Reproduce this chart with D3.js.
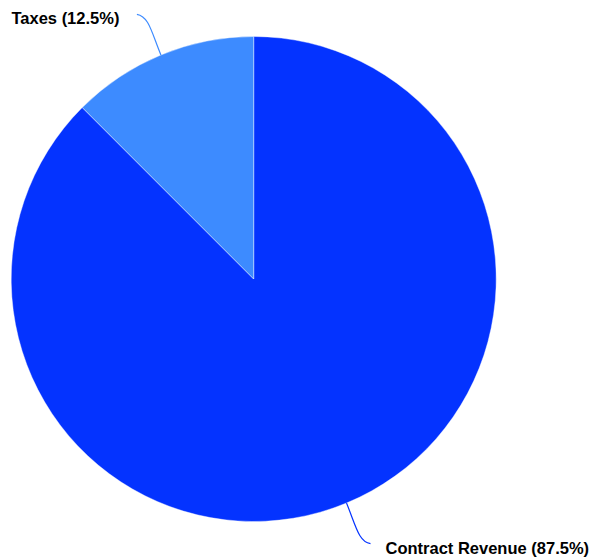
<!DOCTYPE html>
<html>
<head>
<meta charset="utf-8">
<script src="https://cdn.jsdelivr.net/npm/d3@7"></script>
<style>
  html, body { margin: 0; padding: 0; background: #fff; }
  svg { display: block; }
  text { font-family: "Liberation Sans", Arial, Helvetica, sans-serif; font-weight: bold; font-size: 16.5px; fill: #000; }
</style>
</head>
<body>
<svg id="chart" width="593" height="560"></svg>
<script>
const categories = ["Contract Revenue", "Taxes"];
const values = [87.5, 12.5];
const colors = ["#0433ff", "#3d8bff"];

const W = 593, H = 560;
const cx = 253.7, cy = 279, R = 242.5;

const svg = d3.select("#chart");
const g = svg.append("g").attr("transform", `translate(${cx},${cy})`);

const data = categories.map((c, i) => ({ name: c, value: values[i], color: colors[i] }));
const pie = d3.pie().value(d => d.value).sort(null);
const arcs = pie(data);
const arc = d3.arc().innerRadius(0).outerRadius(R);

g.selectAll("path.slice")
  .data(arcs)
  .enter().append("path")
  .attr("class", "slice")
  .attr("d", arc)
  .attr("fill", d => d.data.color)
  .attr("stroke", "rgba(255,255,255,0.5)")
  .attr("stroke-width", 0.8);

// leader lines + labels
const total = d3.sum(values);
arcs.forEach(a => {
  const mid = (a.startAngle + a.endAngle) / 2;
  const sx = Math.sin(mid), sy = -Math.cos(mid);
  const p0 = [R * sx, R * sy];
  const right = sx > 0;
  const dir = right ? 1 : -1;
  const p3 = [p0[0] + dir * 24, p0[1] + sy * 44];
  const c1 = [p0[0] + sx * 24, p0[1] + sy * 24];
  const c2 = [p3[0] - dir * 12, p3[1] - sy * 2];
  g.append("path")
    .attr("d", `M${p0[0]},${p0[1]} C${c1[0]},${c1[1]} ${c2[0]},${c2[1]} ${p3[0]},${p3[1]}`)
    .attr("fill", "none")
    .attr("stroke", a.data.color)
    .attr("stroke-width", 1.2);
  const pct = (a.data.value / total * 100).toFixed(1);
  g.append("text")
    .attr("x", p3[0] + dir * (right ? 15 : 17.5))
    .attr("y", p3[1] + (right ? 5 : 3.5))
    .attr("dy", "0.35em")
    .attr("text-anchor", right ? "start" : "end")
    .text(`${a.data.name} (${pct}%)`);
});
</script>
</body>
</html>
